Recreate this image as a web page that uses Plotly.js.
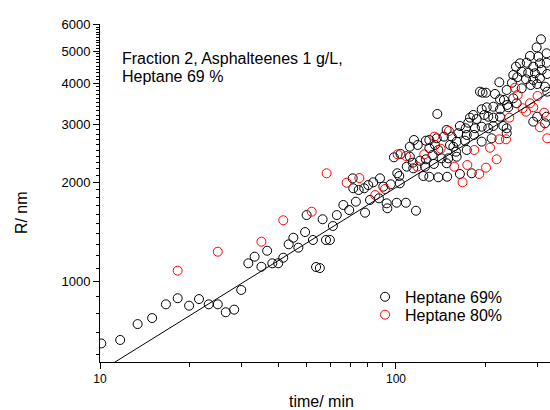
<!DOCTYPE html>
<html>
<head>
<meta charset="utf-8">
<script src="https://cdn.plot.ly/plotly-3.0.1.min.js"></script>
<style>html,body{margin:0;padding:0;background:#fff;}#chart{width:550px;height:410px;}</style>
</head>
<body>
<div id="chart"></div>
<script>
// ---- data (time in min, R in nm) ----
const seriesNames = ["Heptane 69%", "Heptane 80%"];

const hep69_t = [10.1,11.7,13.4,15.0,16.7,18.3,20.0,21.6,23.3,25.0,26.6,28.4,30.0,31.7,33.3,35.1,36.7,38.2,40.0,41.6,43.4,45.0,46.8,49.3,52.4,53.7,55.3,58.0,59.8,61.2,49.9,56.5,63.1,66.4,69.5,71.4,71.7,74.8,73.2,78.1,78.6,80.6,81.7,83.8,87.6,88.3,90.6,93.0,93.5,96.0,98.4,100.5,101,102.6,103,103.6,108,108.7,111.4,111.4,113.9,114.4,115,116.8,118.4,120.5,123.7,125.3,126.2,126.2,129.6,129.6,129.6,132.9,134.3,135.5,137.3,137.9,139,139,142.6,145.2,148.3,148.3,148.9,150.2,152.2,154.2,156.2,159.5,160.3,160.3,162.4,164.4,164.4,171,172,173.4,173.4,175.5,177.8,180.2,182.4,183.4,184.9,187.3,192.2,194.8,194.8,194.8,196.1,198.8,201.4,202.5,205,205,210.4,213.2,213.2,213.2,216,223.4,224.6,224.6,224.6,230.4,231.7,236.6,236.6,236.6,237.5,239.5,246.5,249,249,254.3,255.7,256.8,262.3,265.9,265.9,275,276.5,279.7,283.6,285.1,290.9,290.9,290.9,294.8,298.6,299.9,299.9,302.5,306.5,306.5,308.9,310.5,318.7,318.7,322.7,322.7,322.7,324.3,324.3];
const hep69_R = [650,666,744,776,854,891,846,886,854,854,808,823,944,1137,1191,1110,1241,1137,1137,1182,1298,1359,1268,1414,1338,1108,1100,1338,1338,1475,1592,1546,1592,1708,1649,2057,1919,1896,1748,1919,1619,1963,1769,2001,1789,2057,1941,1728,1669,1973,2382,1735,2131,2091,1987,2438,1735,2232,2565,2392,2294,2206,2688,1641,2596,2326,2091,2232,2675,2349,2688,2537,2080,2421,2274,2596,2720,3223,2507,2072,2365,2751,2883,2285,2080,2365,2596,2751,2565,2477,2657,2392,2818,2964,2120,2675,2916,2784,2507,3033,3141,2131,3201,2784,2916,3112,3766,3330,2949,2657,3739,3201,3739,3377,3162,2916,2720,3391,3141,2964,3706,4021,3570,3330,3162,2964,3553,3810,2916,2818,3432,3377,4009,4231,3596,4482,3472,4164,4590,4329,3855,4106,4609,4298,4831,3945,4482,4086,3055,4281,5131,3972,3162,4807,4590,4135,5427,4380,3899,3020,4922,4609,3162,4261,3766];

const hep80_t = [18.3,25.0,35.1,41.6,51.9,58.3,68.1,75.2,85.1,91.8,101.3,108,118,124.6,134.7,141.6,151,157.3,167.9,174.2,183.9,191.1,201.4,207.8,218.8,223.4,235.3,241.5,252.3,257.6,267.9,275,283.6,290.9,300.9,306.5,316.7,324.3];
const hep80_R = [1080,1233,1322,1535,1630,2131,1995,2062,1831,1909,2432,2404,2232,2432,2751,2529,2862,2232,2001,2258,2507,2120,2216,2547,2349,2701,2701,3141,3872,3681,3354,3275,3472,3377,3654,2937,3252,2720];

// power-law fit line end points
const fit_t = [10, 331];
const fit_R = [535, 3760];

// axes ticks
const xMajor = [10, 100];
const xMinor = [20,30,40,50,60,70,80,90,200,300];
const yMajor = [1000,2000,3000,4000,5000,6000];
const yMinor = [600,700,800,900,1100,1200,1300,1400,1500,1600,1700,1800,1900,2100,2200,2300,2400,2500,2600,2700,2800,2900,3100,3200,3300,3400,3500,3600,3700,3800,3900,4100,4200,4300,4400,4500,4600,4700,4800,4900,5100,5200,5300,5400,5500,5600,5700,5800,5900];

const noteLine1 = "Fraction 2, Asphalteenes 1 g/L,";
const noteLine2 = "Heptane 69 %";
const xTitle = "time/ min";
const yTitle = "R/ nm";

const FONT = "Liberation Sans, Arial, sans-serif";
const X_RANGE = [1, 2.5203];
const Y_RANGE = [2.7567, 3.7809];
const colors = ["#000000", "#ff0000"];

// all tick positions on the main axes (labels only on majors)
const xAll = xMajor.concat(xMinor);
const xAllText = xAll.map(v => xMajor.includes(v) ? String(v) : "");
const yAll = yMajor.concat(yMinor);
const yAllText = yAll.map(v => yMajor.includes(v) ? String(v) : "");

const traces = [
  // fit line on the identically-ranged overlay axes that carry the longer major ticks
  {x: fit_t, y: fit_R, xaxis: "x2", yaxis: "y2", mode: "lines", line: {color: "#000", width: 1}, showlegend: false, hoverinfo: "skip"},
  {x: hep69_t, y: hep69_R, mode: "markers", name: seriesNames[0], legend: "legend",
   marker: {symbol: "circle-open", size: 9, color: colors[0], line: {width: 1, color: colors[0]}}},
  {x: hep80_t, y: hep80_R, mode: "markers", name: seriesNames[1], legend: "legend2",
   marker: {symbol: "circle-open", size: 9, color: colors[1], line: {width: 1, color: colors[1]}}}
];

const legendCommon = {xanchor: "left", yanchor: "top", bgcolor: "rgba(0,0,0,0)",
  font: {family: FONT, size: 16, color: "#000"}, borderwidth: 0};

const layout = {
  width: 550, height: 410,
  margin: {l: 100, r: 0, t: 24, b: 48},
  paper_bgcolor: "#fff", plot_bgcolor: "#fff",
  font: {family: FONT, color: "#000", size: 13},
  showlegend: true,
  legend: Object.assign({x: 0.589, y: 0.243}, legendCommon),
  legend2: Object.assign({x: 0.589, y: 0.19}, legendCommon),
  xaxis: {
    type: "log", range: X_RANGE,
    showline: true, linecolor: "#000", linewidth: 1, mirror: false,
    showgrid: false, zeroline: false,
    ticks: "outside", ticklen: 4, tickwidth: 1, tickcolor: "#000", ticklabelstandoff: 2,
    tickmode: "array", tickvals: xAll, ticktext: xAllText,
    tickfont: {family: FONT, size: 12, color: "#000"}
  },
  yaxis: {
    type: "log", range: Y_RANGE,
    showline: true, linecolor: "#000", linewidth: 1, mirror: false,
    showgrid: false, zeroline: false,
    ticks: "outside", ticklen: 3, tickwidth: 1, tickcolor: "#000", ticklabelstandoff: 3,
    tickmode: "array", tickvals: yAll, ticktext: yAllText,
    tickfont: {family: FONT, size: 13, color: "#000"}
  },
  xaxis2: {
    type: "log", range: X_RANGE, overlaying: "x", anchor: "y", side: "bottom",
    showline: false, showgrid: false, zeroline: false, showticklabels: false,
    ticks: "outside", ticklen: 6, tickwidth: 1, tickcolor: "#000",
    tickmode: "array", tickvals: xMajor
  },
  yaxis2: {
    type: "log", range: Y_RANGE, overlaying: "y", anchor: "x", side: "left",
    showline: false, showgrid: false, zeroline: false, showticklabels: false,
    ticks: "outside", ticklen: 6, tickwidth: 1, tickcolor: "#000",
    tickmode: "array", tickvals: yMajor
  },
  annotations: [
    {text: noteLine1, xref: "paper", yref: "paper", x: 0.0444, y: 0.899, xanchor: "left", yanchor: "middle", showarrow: false, font: {family: FONT, size: 16, color: "#000"}},
    {text: noteLine2, xref: "paper", yref: "paper", x: 0.0444, y: 0.846, xanchor: "left", yanchor: "middle", showarrow: false, font: {family: FONT, size: 16, color: "#000"}},
    {text: xTitle, xref: "paper", yref: "paper", x: 0.4933, y: -0.1183, xanchor: "center", yanchor: "middle", showarrow: false, font: {family: FONT, size: 16, color: "#000"}},
    {text: yTitle, xref: "paper", yref: "paper", x: -0.173, y: 0.441, xanchor: "center", yanchor: "middle", textangle: -90, showarrow: false, font: {family: FONT, size: 16, color: "#000"}}
  ]
};

Plotly.newPlot("chart", traces, layout, {staticPlot: true, displayModeBar: false});
</script>
</body>
</html>
